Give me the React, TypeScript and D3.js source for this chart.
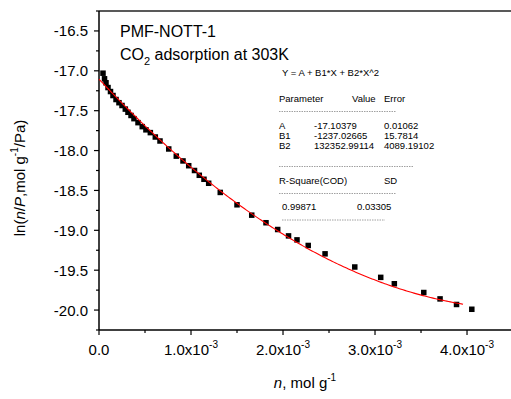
import React from "react";
import * as d3 from "d3";

// Measured points: loading n (mol/g) and ln(n/P)
const nValues = [
  0.0435e-3, 0.06e-3, 0.076e-3, 0.098e-3, 0.125e-3, 0.152e-3, 0.185e-3, 0.217e-3,
  0.25e-3, 0.286e-3, 0.315e-3, 0.348e-3, 0.38e-3, 0.424e-3, 0.47e-3, 0.51e-3,
  0.558e-3, 0.612e-3, 0.663e-3, 0.758e-3, 0.84e-3, 0.913e-3, 0.975e-3, 1.038e-3,
  1.09e-3, 1.141e-3, 1.192e-3, 1.318e-3, 1.5e-3, 1.66e-3, 1.815e-3, 1.942e-3,
  2.06e-3, 2.152e-3, 2.274e-3, 2.457e-3, 2.78e-3, 3.062e-3, 3.21e-3, 3.53e-3,
  3.707e-3, 3.886e-3, 4.052e-3,
];
const lnValues = [
  -17.03, -17.1, -17.15, -17.21, -17.26, -17.31, -17.36, -17.4,
  -17.435, -17.48, -17.52, -17.56, -17.6, -17.65, -17.7, -17.74,
  -17.775, -17.83, -17.88, -17.98, -18.07, -18.13, -18.19, -18.25,
  -18.31, -18.36, -18.41, -18.525, -18.68, -18.81, -18.905, -18.99,
  -19.07, -19.12, -19.19, -19.295, -19.46, -19.59, -19.67, -19.78,
  -19.86, -19.93, -19.99,
];

// Polynomial fit parameters
const fitA = -17.10379;
const fitB1 = -1237.02665;
const fitB2 = 132352.99114;
const fitRange = [0, 3.957e-3];

const yTicks = [-16.5, -17.0, -17.5, -18.0, -18.5, -19.0, -19.5, -20.0];
const yMinorTicks = [-16.25, -16.75, -17.25, -17.75, -18.25, -18.75, -19.25, -19.75, -20.25];
const xTicks = [0, 1e-3, 2e-3, 3e-3, 4e-3];
const xTickMantissa = ["0.0", "1.0", "2.0", "3.0", "4.0"];
const xMinorTicks = [0.5e-3, 1.5e-3, 2.5e-3, 3.5e-3];

const tableHeader = ["Parameter", "Value", "Error"];
const tableRows = [
  ["A", "-17.10379", "0.01062"],
  ["B1", "-1237.02665", "15.7814"],
  ["B2", "132352.99114", "4089.19102"],
];
const statHeader = ["R-Square(COD)", "SD"];
const statValues = ["0.99871", "0.03305"];

const W = 511;
const H = 399;
const font = "Arial, 'Liberation Sans', sans-serif";

export default function App() {
  const x = d3.scaleLinear().domain([0, 4.478e-3]).range([99, 511]);
  const y = d3.scaleLinear().domain([-20.25, -16.25]).range([330, 11]);

  const fitXs = d3.range(0, 201).map((i) => fitRange[0] + ((fitRange[1] - fitRange[0]) * i) / 200);
  const fitLine = d3
    .line<number>()
    .x((v) => x(v))
    .y((v) => y(fitA + fitB1 * v + fitB2 * v * v))(fitXs);

  const x0 = x(0);
  const yBottom = y(-20.25);
  const yTop = y(-16.25);
  const tableFont = 9.5;
  const dash = { stroke: "#888", strokeWidth: 0.8, strokeDasharray: "1.5,1" };

  return (
    <svg
      width={W}
      height={H}
      style={{ position: "absolute", left: 0, top: 0, background: "#fff" }}
      fontFamily={font}
    >
      <rect width={W} height={H} fill="#fff" />
      {/* frame */}
      <line x1={x0} x2={W} y1={yTop} y2={yTop} stroke="#222" strokeWidth={1.3} />
      <line x1={x0} x2={W} y1={yBottom} y2={yBottom} stroke="#000" strokeWidth={1.5} />
      <line x1={x0} x2={x0} y1={yTop} y2={yBottom} stroke="#000" strokeWidth={1.5} />

      {/* y ticks */}
      {yTicks.map((t) => (
        <g key={"y" + t}>
          <line x1={x0 - 5} x2={x0} y1={y(t)} y2={y(t)} stroke="#000" strokeWidth={1.2} />
          <text x={88} y={y(t) + 5.5} fontSize={15} textAnchor="end">
            {t.toFixed(1)}
          </text>
        </g>
      ))}
      {yMinorTicks.map((t) => (
        <line key={"ym" + t} x1={x0 - 3} x2={x0} y1={y(t)} y2={y(t)} stroke="#000" strokeWidth={1.2} />
      ))}

      {/* x ticks */}
      {xTicks.map((t, i) => (
        <g key={"x" + t}>
          <line x1={x(t)} x2={x(t)} y1={yBottom} y2={yBottom + 5} stroke="#000" strokeWidth={1.2} />
          <text x={x(t)} y={355} fontSize={15} textAnchor="middle">
            {i === 0 ? (
              xTickMantissa[i]
            ) : (
              <>
                {xTickMantissa[i] + "x10"}
                <tspan dy={-7} fontSize={10}>
                  -3
                </tspan>
              </>
            )}
          </text>
        </g>
      ))}
      {xMinorTicks.map((t) => (
        <line key={"xm" + t} x1={x(t)} x2={x(t)} y1={yBottom} y2={yBottom + 3} stroke="#000" strokeWidth={1.2} />
      ))}

      {/* axis titles */}
      <text x={305} y={388} fontSize={15} textAnchor="middle">
        <tspan fontStyle="italic">n</tspan>
        <tspan>, mol g</tspan>
        <tspan dy={-7} fontSize={10}>-1</tspan>
      </text>
      <text transform="translate(25,178) rotate(-90)" fontSize={15} textAnchor="middle">
        <tspan>ln(</tspan>
        <tspan fontStyle="italic">n</tspan>
        <tspan>/</tspan>
        <tspan fontStyle="italic">P</tspan>
        <tspan>,mol g</tspan>
        <tspan dy={-7} fontSize={10}>-1</tspan>
        <tspan dy={7}>/Pa)</tspan>
      </text>

      {/* data */}
      {nValues.map((n, i) => (
        <rect key={"p" + i} x={x(n) - 2.75} y={y(lnValues[i]) - 2.75} width={5.5} height={5.5} fill="#000" />
      ))}
      <path d={fitLine ?? ""} fill="none" stroke="#f00" strokeWidth={1.1} />

      {/* annotations */}
      <text x={120} y={37} fontSize={16}>PMF-NOTT-1</text>
      <text x={120} y={60} fontSize={16}>
        CO
        <tspan dy={5} fontSize={11}>2</tspan>
        <tspan dy={-5}> adsorption at 303K</tspan>
      </text>

      <g fontSize={tableFont} fill="#000">
        <text x={282} y={76}>Y = A + B1*X + B2*X^2</text>
        <text x={279} y={102}>{tableHeader[0]}</text>
        <text x={352} y={102}>{tableHeader[1]}</text>
        <text x={384} y={102}>{tableHeader[2]}</text>
        <line x1={279} x2={396} y1={111.5} y2={111.5} {...dash} />
        {tableRows.map((r, i) => (
          <g key={"r" + i}>
            <text x={279} y={129 + i * 10}>{r[0]}</text>
            <text x={314} y={129 + i * 10}>{r[1]}</text>
            <text x={384} y={129 + i * 10}>{r[2]}</text>
          </g>
        ))}
        <line x1={279} x2={413} y1={166.5} y2={166.5} {...dash} />
        <text x={279} y={184}>{statHeader[0]}</text>
        <text x={384} y={184}>{statHeader[1]}</text>
        <line x1={279} x2={396} y1={193.5} y2={193.5} {...dash} />
        <text x={282} y={210}>{statValues[0]}</text>
        <text x={357} y={210}>{statValues[1]}</text>
        <line x1={282} x2={385} y1={220} y2={220} {...dash} />
      </g>
    </svg>
  );
}
